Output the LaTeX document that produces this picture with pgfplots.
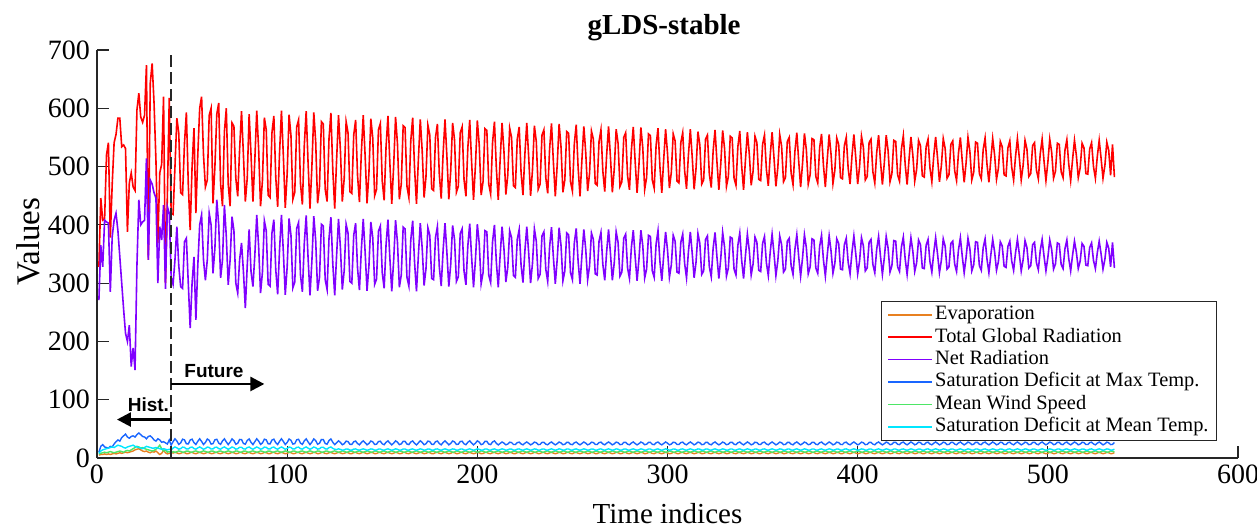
\documentclass[border=0pt]{standalone}
\usepackage{fontspec}
\setmainfont{Liberation Serif}
\newfontfamily\arialfont{Liberation Sans}
\usepackage{pgfplots}
\usepackage{pgfplotstable}
\pgfplotsset{compat=1.18}
\usetikzlibrary{arrows.meta,calc}

\definecolor{cEvap}{RGB}{232,128,32}
\definecolor{cTGR}{RGB}{255,0,0}
\definecolor{cNR}{RGB}{128,0,255}
\definecolor{cSDMax}{RGB}{25,102,255}
\definecolor{cWind}{RGB}{77,230,102}
\definecolor{cSDMean}{RGB}{0,230,255}
\definecolor{axgray}{RGB}{38,38,38}

\pgfplotstableread[row sep=\\]{
y\\
328\\446\\408\\410\\520\\541\\378\\470\\541\\555\\583\\583\\534\\537\\531\\388\\472\\489\\465\\459\\597\\626\\585\\576\\588\\674\\340\\643\\677\\609\\510\\369\\489\\504\\620\\300\\450\\618\\420\\
418\\500\\583\\557\\455\\452\\540\\593\\470\\391\\500\\566\\420\\520\\600\\620\\520\\465\\477\\588\\600\\437\\500\\590\\609\\470\\432\\560\\600\\470\\432\\575\\569\\480\\449\\530\\595\\520\\440\\480\\590\\520\\440\\
512\\596\\530\\432\\476\\584\\563\\451\\447\\558\\587\\482\\431\\524\\596\\518\\429\\488\\589\\553\\444\\456\\568\\580\\471\\435\\536\\595\\506\\428\\500\\593\\542\\437\\466\\577\\573\\461\\440\\548\\592\\494\\428\\
512\\588\\528\\440\\480\\577\\558\\457\\454\\554\\580\\485\\439\\523\\588\\518\\437\\490\\582\\549\\450\\461\\563\\574\\475\\442\\534\\587\\506\\436\\501\\585\\539\\444\\470\\570\\567\\466\\447\\544\\584\\496\\436\\
512\\581\\527\\447\\483\\571\\554\\462\\459\\550\\573\\487\\445\\522\\581\\517\\444\\492\\575\\546\\456\\466\\558\\568\\478\\449\\532\\580\\507\\443\\502\\579\\537\\451\\474\\565\\562\\470\\453\\541\\577\\497\\443\\
512\\575\\526\\452\\485\\566\\550\\467\\464\\547\\568\\490\\451\\521\\575\\517\\450\\494\\570\\543\\461\\470\\554\\563\\481\\454\\530\\574\\507\\449\\503\\573\\534\\456\\477\\560\\557\\474\\458\\539\\572\\498\\449\\
512\\569\\524\\458\\488\\561\\547\\471\\468\\543\\563\\492\\457\\520\\569\\516\\456\\496\\564\\540\\466\\474\\550\\558\\484\\460\\528\\568\\508\\455\\504\\567\\532\\461\\481\\556\\553\\477\\463\\536\\566\\500\\455\\
512\\564\\523\\463\\490\\556\\544\\475\\472\\541\\558\\493\\462\\520\\564\\516\\461\\497\\560\\537\\470\\477\\547\\554\\487\\464\\527\\563\\508\\460\\504\\562\\531\\466\\483\\552\\549\\480\\468\\534\\561\\501\\460\\
512\\559\\522\\468\\492\\552\\541\\478\\476\\538\\554\\495\\467\\519\\559\\515\\466\\498\\555\\535\\474\\481\\543\\550\\489\\469\\526\\558\\509\\465\\505\\557\\529\\470\\486\\548\\546\\483\\472\\532\\556\\502\\465\\
512\\555\\521\\471\\494\\549\\538\\481\\479\\536\\550\\497\\470\\518\\555\\515\\470\\500\\552\\533\\477\\483\\541\\547\\491\\472\\524\\554\\509\\469\\506\\554\\527\\474\\488\\545\\543\\486\\475\\530\\553\\503\\469\\
512\\551\\520\\475\\495\\545\\536\\484\\482\\534\\547\\498\\474\\518\\551\\515\\474\\501\\548\\531\\480\\486\\538\\544\\493\\476\\523\\550\\509\\473\\506\\550\\526\\477\\490\\542\\540\\488\\479\\529\\549\\504\\473\\
512\\548\\520\\478\\497\\543\\534\\486\\484\\532\\544\\499\\477\\517\\548\\515\\477\\502\\545\\530\\483\\488\\536\\541\\494\\479\\522\\547\\509\\476\\507\\547\\525\\480\\492\\540\\538\\491\\481\\528\\546\\504\\476\\
512\\545\\519\\481\\498\\540\\532\\488\\487\\530\\541\\500\\480\\517\\545\\514\\480\\502\\542\\528\\485\\538\\482\\
}\tTGR

\pgfplotstableread[row sep=\\]{
y\\
271\\365\\328\\408\\405\\403\\285\\380\\408\\420\\390\\345\\300\\255\\214\\200\\228\\157\\189\\151\\330\\443\\400\\405\\408\\514\\340\\477\\470\\455\\446\\300\\397\\374\\434\\290\\431\\420\\310\\
298\\340\\397\\330\\294\\291\\371\\377\\300\\223\\300\\345\\237\\330\\400\\417\\340\\305\\340\\420\\400\\317\\360\\443\\400\\309\\340\\434\\380\\297\\340\\414\\390\\300\\283\\340\\369\\320\\257\\330\\392\\320\\294\\
348\\417\\363\\283\\319\\407\\390\\298\\295\\386\\409\\323\\281\\358\\417\\353\\280\\328\\411\\382\\292\\302\\394\\404\\314\\285\\368\\416\\343\\279\\338\\415\\373\\287\\310\\401\\398\\306\\289\\377\\413\\333\\279\\
348\\410\\361\\289\\322\\401\\386\\303\\300\\382\\403\\326\\288\\357\\410\\353\\287\\330\\405\\378\\298\\307\\389\\398\\318\\291\\366\\409\\343\\286\\339\\408\\370\\293\\314\\396\\393\\310\\295\\374\\407\\335\\286\\
348\\403\\360\\296\\325\\395\\382\\308\\306\\378\\397\\328\\295\\356\\403\\352\\294\\332\\399\\375\\303\\311\\385\\393\\321\\297\\364\\402\\344\\293\\340\\401\\368\\299\\318\\390\\388\\314\\301\\371\\400\\336\\293\\
348\\397\\359\\302\\327\\390\\378\\313\\310\\375\\392\\331\\301\\355\\397\\352\\300\\334\\393\\372\\308\\315\\381\\388\\324\\303\\362\\396\\344\\299\\341\\395\\365\\304\\321\\386\\383\\318\\306\\369\\394\\337\\299\\
348\\392\\358\\306\\329\\386\\375\\316\\314\\372\\387\\332\\305\\354\\392\\351\\305\\335\\388\\370\\312\\319\\377\\384\\326\\308\\361\\391\\345\\304\\342\\391\\364\\309\\324\\382\\380\\321\\310\\367\\390\\338\\304\\
348\\388\\357\\310\\331\\382\\372\\319\\317\\370\\384\\334\\309\\354\\388\\351\\309\\336\\385\\368\\315\\321\\375\\381\\328\\311\\360\\387\\345\\308\\342\\387\\362\\312\\326\\379\\377\\324\\314\\365\\386\\339\\308\\
348\\384\\356\\314\\333\\379\\370\\322\\320\\368\\380\\335\\313\\353\\384\\351\\313\\338\\381\\366\\319\\324\\372\\377\\330\\315\\358\\383\\345\\312\\343\\383\\361\\316\\328\\376\\374\\326\\317\\363\\382\\340\\312\\
348\\381\\355\\317\\334\\376\\368\\324\\323\\366\\377\\336\\316\\353\\381\\350\\316\\338\\378\\364\\321\\326\\370\\375\\332\\318\\358\\380\\346\\315\\343\\380\\360\\319\\330\\373\\372\\328\\320\\362\\379\\341\\315\\
348\\378\\355\\320\\335\\374\\366\\326\\325\\365\\375\\337\\319\\352\\378\\350\\318\\339\\376\\363\\324\\328\\368\\372\\333\\320\\357\\378\\346\\318\\344\\377\\359\\321\\331\\371\\370\\330\\322\\361\\376\\341\\318\\
348\\375\\354\\322\\337\\371\\364\\329\\327\\363\\372\\338\\322\\352\\375\\350\\321\\340\\373\\361\\326\\330\\366\\370\\335\\323\\356\\375\\346\\321\\344\\374\\358\\324\\333\\369\\367\\332\\325\\359\\374\\342\\321\\
348\\372\\353\\325\\338\\368\\363\\331\\330\\361\\369\\339\\325\\352\\372\\350\\324\\341\\370\\360\\328\\370\\326\\
}\tNR

\pgfplotstableread[row sep=\\]{
y\\
10\\20\\23\\19\\18\\17\\20\\19\\24\\28\\31\\29\\35\\38\\41\\36\\34\\37\\38\\36\\40\\43\\40\\37\\36\\33\\37\\38\\35\\31\\29\\33\\31\\27\\28\\26\\24\\31\\22\\
28\\33\\29.1\\23.3\\25.9\\32.3\\31.1\\24.4\\24.2\\30.8\\32.4\\26.2\\23.2\\28.7\\33\\28.4\\23.1\\26.6\\32.6\\30.4\\23.9\\24.7\\31.3\\32.1\\25.6\\23.4\\29.4\\32.9\\27.6\\23\\27.3\\32.8\\29.8\\23.6\\25.2\\31.8\\31.6\\24.9\\23.7\\30.1\\32.7\\26.9\\23\\
28\\33\\29.1\\23.3\\25.9\\32.3\\31.1\\24.4\\24.2\\30.8\\32.4\\26.2\\23.2\\28.7\\33\\28.4\\23.1\\26.6\\32.6\\30.4\\23.9\\24.7\\31.3\\32.1\\25.6\\23.4\\29.4\\32.9\\27.6\\23\\27.3\\32.8\\29.8\\23.6\\25.2\\31.8\\31.6\\24.9\\23.7\\30.1\\32.7\\26.9\\23\\
26\\29.5\\26.8\\22.7\\24.5\\29\\28.1\\23.5\\23.3\\27.9\\29.1\\24.8\\22.6\\26.5\\29.5\\26.3\\22.6\\25\\29.2\\27.7\\23.2\\23.7\\28.3\\28.8\\24.3\\22.8\\27\\29.4\\25.7\\22.5\\25.5\\29.4\\27.2\\22.9\\24.1\\28.7\\28.5\\23.9\\23\\27.5\\29.3\\25.2\\22.5\\
26\\29.5\\26.8\\22.7\\24.5\\29\\28.1\\23.5\\23.3\\27.9\\29.1\\24.8\\22.6\\26.5\\29.5\\26.3\\22.6\\25\\29.2\\27.7\\23.2\\23.7\\28.3\\28.8\\24.3\\22.8\\27\\29.4\\25.7\\22.5\\25.5\\29.4\\27.2\\22.9\\24.1\\28.7\\28.5\\23.9\\23\\27.5\\29.3\\25.2\\22.5\\
25\\27.5\\25.5\\22.6\\23.9\\27.1\\26.5\\23.2\\23.1\\26.4\\27.2\\24.1\\22.6\\25.4\\27.5\\25.2\\22.5\\24.3\\27.3\\26.2\\23\\23.3\\26.7\\27\\23.8\\22.7\\25.7\\27.5\\24.8\\22.5\\24.6\\27.4\\25.9\\22.8\\23.6\\26.9\\26.8\\23.5\\22.9\\26.1\\27.4\\24.5\\22.5\\
25\\27.5\\25.5\\22.6\\23.9\\27.1\\26.5\\23.2\\23.1\\26.4\\27.2\\24.1\\22.6\\25.4\\27.5\\25.2\\22.5\\24.3\\27.3\\26.2\\23\\23.3\\26.7\\27\\23.8\\22.7\\25.7\\27.5\\24.8\\22.5\\24.6\\27.4\\25.9\\22.8\\23.6\\26.9\\26.8\\23.5\\22.9\\26.1\\27.4\\24.5\\22.5\\
25\\27.5\\25.5\\22.6\\23.9\\27.1\\26.5\\23.2\\23.1\\26.4\\27.2\\24.1\\22.6\\25.4\\27.5\\25.2\\22.5\\24.3\\27.3\\26.2\\23\\23.3\\26.7\\27\\23.8\\22.7\\25.7\\27.5\\24.8\\22.5\\24.6\\27.4\\25.9\\22.8\\23.6\\26.9\\26.8\\23.5\\22.9\\26.1\\27.4\\24.5\\22.5\\
25\\27.5\\25.5\\22.6\\23.9\\27.1\\26.5\\23.2\\23.1\\26.4\\27.2\\24.1\\22.6\\25.4\\27.5\\25.2\\22.5\\24.3\\27.3\\26.2\\23\\23.3\\26.7\\27\\23.8\\22.7\\25.7\\27.5\\24.8\\22.5\\24.6\\27.4\\25.9\\22.8\\23.6\\26.9\\26.8\\23.5\\22.9\\26.1\\27.4\\24.5\\22.5\\
25\\27.5\\25.5\\22.6\\23.9\\27.1\\26.5\\23.2\\23.1\\26.4\\27.2\\24.1\\22.6\\25.4\\27.5\\25.2\\22.5\\24.3\\27.3\\26.2\\23\\23.3\\26.7\\27\\23.8\\22.7\\25.7\\27.5\\24.8\\22.5\\24.6\\27.4\\25.9\\22.8\\23.6\\26.9\\26.8\\23.5\\22.9\\26.1\\27.4\\24.5\\22.5\\
25\\27.5\\25.5\\22.6\\23.9\\27.1\\26.5\\23.2\\23.1\\26.4\\27.2\\24.1\\22.6\\25.4\\27.5\\25.2\\22.5\\24.3\\27.3\\26.2\\23\\23.3\\26.7\\27\\23.8\\22.7\\25.7\\27.5\\24.8\\22.5\\24.6\\27.4\\25.9\\22.8\\23.6\\26.9\\26.8\\23.5\\22.9\\26.1\\27.4\\24.5\\22.5\\
25\\27.5\\25.5\\22.6\\23.9\\27.1\\26.5\\23.2\\23.1\\26.4\\27.2\\24.1\\22.6\\25.4\\27.5\\25.2\\22.5\\24.3\\27.3\\26.2\\23\\23.3\\26.7\\27\\23.8\\22.7\\25.7\\27.5\\24.8\\22.5\\24.6\\27.4\\25.9\\22.8\\23.6\\26.9\\26.8\\23.5\\22.9\\26.1\\27.4\\24.5\\22.5\\
25\\27.5\\25.5\\22.6\\23.9\\27.1\\26.5\\23.2\\23.1\\26.4\\27.2\\24.1\\22.6\\25.4\\27.5\\25.2\\22.5\\24.3\\27.3\\26.2\\23\\23.3\\26.7\\
}\tSDMax

\pgfplotstableread[row sep=\\]{
y\\
8\\12\\14\\15\\16\\17\\18\\19\\18\\20\\22\\21\\20\\18\\17\\19\\20\\21\\22\\20\\19\\18\\17\\16\\18\\20\\19\\18\\17\\17\\18\\17\\16\\15\\16\\15\\14\\15\\14\\
17\\19\\17.4\\15.1\\16.1\\18.7\\18.2\\15.6\\15.5\\18.1\\18.8\\16.3\\15.1\\17.3\\19\\17.1\\15\\16.4\\18.8\\18\\15.4\\15.7\\18.3\\18.6\\16\\15.2\\17.6\\19\\16.9\\15\\16.7\\18.9\\17.7\\15.2\\15.9\\18.5\\18.4\\15.8\\15.3\\17.9\\18.9\\16.6\\15\\
17\\19\\17.4\\15.1\\16.1\\18.7\\18.2\\15.6\\15.5\\18.1\\18.8\\16.3\\15.1\\17.3\\19\\17.1\\15\\16.4\\18.8\\18\\15.4\\15.7\\18.3\\18.6\\16\\15.2\\17.6\\19\\16.9\\15\\16.7\\18.9\\17.7\\15.2\\15.9\\18.5\\18.4\\15.8\\15.3\\17.9\\18.9\\16.6\\15\\
14.5\\15.7\\14.8\\13.4\\14\\15.5\\15.2\\13.6\\13.6\\15.2\\15.6\\14.1\\13.3\\14.7\\15.7\\14.6\\13.3\\14.2\\15.6\\15.1\\13.5\\13.7\\15.3\\15.5\\13.9\\13.4\\14.8\\15.7\\14.4\\13.3\\14.3\\15.7\\14.9\\13.4\\13.8\\15.4\\15.4\\13.8\\13.5\\15\\15.6\\14.2\\13.3\\
14.5\\15.7\\14.8\\13.4\\14\\15.5\\15.2\\13.6\\13.6\\15.2\\15.6\\14.1\\13.3\\14.7\\15.7\\14.6\\13.3\\14.2\\15.6\\15.1\\13.5\\13.7\\15.3\\15.5\\13.9\\13.4\\14.8\\15.7\\14.4\\13.3\\14.3\\15.7\\14.9\\13.4\\13.8\\15.4\\15.4\\13.8\\13.5\\15\\15.6\\14.2\\13.3\\
14.5\\15.7\\14.8\\13.4\\14\\15.5\\15.2\\13.6\\13.6\\15.2\\15.6\\14.1\\13.3\\14.7\\15.7\\14.6\\13.3\\14.2\\15.6\\15.1\\13.5\\13.7\\15.3\\15.5\\13.9\\13.4\\14.8\\15.7\\14.4\\13.3\\14.3\\15.7\\14.9\\13.4\\13.8\\15.4\\15.4\\13.8\\13.5\\15\\15.6\\14.2\\13.3\\
14.5\\15.7\\14.8\\13.4\\14\\15.5\\15.2\\13.6\\13.6\\15.2\\15.6\\14.1\\13.3\\14.7\\15.7\\14.6\\13.3\\14.2\\15.6\\15.1\\13.5\\13.7\\15.3\\15.5\\13.9\\13.4\\14.8\\15.7\\14.4\\13.3\\14.3\\15.7\\14.9\\13.4\\13.8\\15.4\\15.4\\13.8\\13.5\\15\\15.6\\14.2\\13.3\\
14.5\\15.7\\14.8\\13.4\\14\\15.5\\15.2\\13.6\\13.6\\15.2\\15.6\\14.1\\13.3\\14.7\\15.7\\14.6\\13.3\\14.2\\15.6\\15.1\\13.5\\13.7\\15.3\\15.5\\13.9\\13.4\\14.8\\15.7\\14.4\\13.3\\14.3\\15.7\\14.9\\13.4\\13.8\\15.4\\15.4\\13.8\\13.5\\15\\15.6\\14.2\\13.3\\
14.5\\15.7\\14.8\\13.4\\14\\15.5\\15.2\\13.6\\13.6\\15.2\\15.6\\14.1\\13.3\\14.7\\15.7\\14.6\\13.3\\14.2\\15.6\\15.1\\13.5\\13.7\\15.3\\15.5\\13.9\\13.4\\14.8\\15.7\\14.4\\13.3\\14.3\\15.7\\14.9\\13.4\\13.8\\15.4\\15.4\\13.8\\13.5\\15\\15.6\\14.2\\13.3\\
14.5\\15.7\\14.8\\13.4\\14\\15.5\\15.2\\13.6\\13.6\\15.2\\15.6\\14.1\\13.3\\14.7\\15.7\\14.6\\13.3\\14.2\\15.6\\15.1\\13.5\\13.7\\15.3\\15.5\\13.9\\13.4\\14.8\\15.7\\14.4\\13.3\\14.3\\15.7\\14.9\\13.4\\13.8\\15.4\\15.4\\13.8\\13.5\\15\\15.6\\14.2\\13.3\\
14.5\\15.7\\14.8\\13.4\\14\\15.5\\15.2\\13.6\\13.6\\15.2\\15.6\\14.1\\13.3\\14.7\\15.7\\14.6\\13.3\\14.2\\15.6\\15.1\\13.5\\13.7\\15.3\\15.5\\13.9\\13.4\\14.8\\15.7\\14.4\\13.3\\14.3\\15.7\\14.9\\13.4\\13.8\\15.4\\15.4\\13.8\\13.5\\15\\15.6\\14.2\\13.3\\
14.5\\15.7\\14.8\\13.4\\14\\15.5\\15.2\\13.6\\13.6\\15.2\\15.6\\14.1\\13.3\\14.7\\15.7\\14.6\\13.3\\14.2\\15.6\\15.1\\13.5\\13.7\\15.3\\15.5\\13.9\\13.4\\14.8\\15.7\\14.4\\13.3\\14.3\\15.7\\14.9\\13.4\\13.8\\15.4\\15.4\\13.8\\13.5\\15\\15.6\\14.2\\13.3\\
14.5\\15.7\\14.8\\13.4\\14\\15.5\\15.2\\13.6\\13.6\\15.2\\15.6\\14.1\\13.3\\14.7\\15.7\\14.6\\13.3\\14.2\\15.6\\15.1\\13.5\\13.7\\15.3\\
}\tSDMean

\pgfplotstableread[row sep=\\]{
y\\
7\\8\\9\\10\\9\\10\\11\\10\\9\\10\\11\\12\\11\\10\\12\\13\\12\\14\\16\\18\\20\\19\\17\\18\\16\\15\\14\\13\\12\\13\\15\\18\\22\\16\\12\\14\\10\\11\\9\\
11\\9.8\\10.7\\12.1\\11.5\\10\\10.3\\11.9\\11.9\\10.3\\9.9\\11.4\\12.2\\10.8\\9.8\\10.9\\12.2\\11.3\\9.9\\10.4\\12\\11.8\\10.2\\10\\11.6\\12.1\\10.7\\9.8\\11.1\\12.2\\11.2\\9.8\\10.6\\12.1\\11.7\\10.1\\10.1\\11.7\\12\\10.5\\9.9\\11.3\\12.2\\
11\\9.8\\10.7\\12.1\\11.5\\10\\10.3\\11.9\\11.9\\10.3\\9.9\\11.4\\12.2\\10.8\\9.8\\10.9\\12.2\\11.3\\9.9\\10.4\\12\\11.8\\10.2\\10\\11.6\\12.1\\10.7\\9.8\\11.1\\12.2\\11.2\\9.8\\10.6\\12.1\\11.7\\10.1\\10.1\\11.7\\12\\10.5\\9.9\\11.3\\12.2\\
11\\9.8\\10.7\\12.1\\11.5\\10\\10.3\\11.9\\11.9\\10.3\\9.9\\11.4\\12.2\\10.8\\9.8\\10.9\\12.2\\11.3\\9.9\\10.4\\12\\11.8\\10.2\\10\\11.6\\12.1\\10.7\\9.8\\11.1\\12.2\\11.2\\9.8\\10.6\\12.1\\11.7\\10.1\\10.1\\11.7\\12\\10.5\\9.9\\11.3\\12.2\\
11\\9.8\\10.7\\12.1\\11.5\\10\\10.3\\11.9\\11.9\\10.3\\9.9\\11.4\\12.2\\10.8\\9.8\\10.9\\12.2\\11.3\\9.9\\10.4\\12\\11.8\\10.2\\10\\11.6\\12.1\\10.7\\9.8\\11.1\\12.2\\11.2\\9.8\\10.6\\12.1\\11.7\\10.1\\10.1\\11.7\\12\\10.5\\9.9\\11.3\\12.2\\
11\\9.8\\10.7\\12.1\\11.5\\10\\10.3\\11.9\\11.9\\10.3\\9.9\\11.4\\12.2\\10.8\\9.8\\10.9\\12.2\\11.3\\9.9\\10.4\\12\\11.8\\10.2\\10\\11.6\\12.1\\10.7\\9.8\\11.1\\12.2\\11.2\\9.8\\10.6\\12.1\\11.7\\10.1\\10.1\\11.7\\12\\10.5\\9.9\\11.3\\12.2\\
11\\9.8\\10.7\\12.1\\11.5\\10\\10.3\\11.9\\11.9\\10.3\\9.9\\11.4\\12.2\\10.8\\9.8\\10.9\\12.2\\11.3\\9.9\\10.4\\12\\11.8\\10.2\\10\\11.6\\12.1\\10.7\\9.8\\11.1\\12.2\\11.2\\9.8\\10.6\\12.1\\11.7\\10.1\\10.1\\11.7\\12\\10.5\\9.9\\11.3\\12.2\\
11\\9.8\\10.7\\12.1\\11.5\\10\\10.3\\11.9\\11.9\\10.3\\9.9\\11.4\\12.2\\10.8\\9.8\\10.9\\12.2\\11.3\\9.9\\10.4\\12\\11.8\\10.2\\10\\11.6\\12.1\\10.7\\9.8\\11.1\\12.2\\11.2\\9.8\\10.6\\12.1\\11.7\\10.1\\10.1\\11.7\\12\\10.5\\9.9\\11.3\\12.2\\
11\\9.8\\10.7\\12.1\\11.5\\10\\10.3\\11.9\\11.9\\10.3\\9.9\\11.4\\12.2\\10.8\\9.8\\10.9\\12.2\\11.3\\9.9\\10.4\\12\\11.8\\10.2\\10\\11.6\\12.1\\10.7\\9.8\\11.1\\12.2\\11.2\\9.8\\10.6\\12.1\\11.7\\10.1\\10.1\\11.7\\12\\10.5\\9.9\\11.3\\12.2\\
11\\9.8\\10.7\\12.1\\11.5\\10\\10.3\\11.9\\11.9\\10.3\\9.9\\11.4\\12.2\\10.8\\9.8\\10.9\\12.2\\11.3\\9.9\\10.4\\12\\11.8\\10.2\\10\\11.6\\12.1\\10.7\\9.8\\11.1\\12.2\\11.2\\9.8\\10.6\\12.1\\11.7\\10.1\\10.1\\11.7\\12\\10.5\\9.9\\11.3\\12.2\\
11\\9.8\\10.7\\12.1\\11.5\\10\\10.3\\11.9\\11.9\\10.3\\9.9\\11.4\\12.2\\10.8\\9.8\\10.9\\12.2\\11.3\\9.9\\10.4\\12\\11.8\\10.2\\10\\11.6\\12.1\\10.7\\9.8\\11.1\\12.2\\11.2\\9.8\\10.6\\12.1\\11.7\\10.1\\10.1\\11.7\\12\\10.5\\9.9\\11.3\\12.2\\
11\\9.8\\10.7\\12.1\\11.5\\10\\10.3\\11.9\\11.9\\10.3\\9.9\\11.4\\12.2\\10.8\\9.8\\10.9\\12.2\\11.3\\9.9\\10.4\\12\\11.8\\10.2\\10\\11.6\\12.1\\10.7\\9.8\\11.1\\12.2\\11.2\\9.8\\10.6\\12.1\\11.7\\10.1\\10.1\\11.7\\12\\10.5\\9.9\\11.3\\12.2\\
11\\9.8\\10.7\\12.1\\11.5\\10\\10.3\\11.9\\11.9\\10.3\\9.9\\11.4\\12.2\\10.8\\9.8\\10.9\\12.2\\11.3\\9.9\\10.4\\12\\11.8\\10.2\\
}\tWind

\pgfplotstableread[row sep=\\]{
y\\
5\\6\\6\\7\\6\\7\\6\\7\\8\\7\\8\\9\\8\\9\\10\\9\\10\\11\\12\\14\\15\\16\\14\\12\\11\\12\\10\\9\\11\\10\\12\\9\\6\\8\\13\\9\\7\\8\\9\\
8.5\\9.7\\8.8\\7.4\\8\\9.5\\9.2\\7.6\\7.6\\9.2\\9.6\\8.1\\7.3\\8.7\\9.7\\8.6\\7.3\\8.2\\9.6\\9.1\\7.5\\7.7\\9.3\\9.5\\7.9\\7.4\\8.8\\9.7\\8.4\\7.3\\8.3\\9.7\\8.9\\7.4\\7.8\\9.4\\9.4\\7.8\\7.5\\9\\9.6\\8.2\\7.3\\
8.5\\9.7\\8.8\\7.4\\8\\9.5\\9.2\\7.6\\7.6\\9.2\\9.6\\8.1\\7.3\\8.7\\9.7\\8.6\\7.3\\8.2\\9.6\\9.1\\7.5\\7.7\\9.3\\9.5\\7.9\\7.4\\8.8\\9.7\\8.4\\7.3\\8.3\\9.7\\8.9\\7.4\\7.8\\9.4\\9.4\\7.8\\7.5\\9\\9.6\\8.2\\7.3\\
8.5\\9.7\\8.8\\7.4\\8\\9.5\\9.2\\7.6\\7.6\\9.2\\9.6\\8.1\\7.3\\8.7\\9.7\\8.6\\7.3\\8.2\\9.6\\9.1\\7.5\\7.7\\9.3\\9.5\\7.9\\7.4\\8.8\\9.7\\8.4\\7.3\\8.3\\9.7\\8.9\\7.4\\7.8\\9.4\\9.4\\7.8\\7.5\\9\\9.6\\8.2\\7.3\\
8.5\\9.7\\8.8\\7.4\\8\\9.5\\9.2\\7.6\\7.6\\9.2\\9.6\\8.1\\7.3\\8.7\\9.7\\8.6\\7.3\\8.2\\9.6\\9.1\\7.5\\7.7\\9.3\\9.5\\7.9\\7.4\\8.8\\9.7\\8.4\\7.3\\8.3\\9.7\\8.9\\7.4\\7.8\\9.4\\9.4\\7.8\\7.5\\9\\9.6\\8.2\\7.3\\
8.5\\9.7\\8.8\\7.4\\8\\9.5\\9.2\\7.6\\7.6\\9.2\\9.6\\8.1\\7.3\\8.7\\9.7\\8.6\\7.3\\8.2\\9.6\\9.1\\7.5\\7.7\\9.3\\9.5\\7.9\\7.4\\8.8\\9.7\\8.4\\7.3\\8.3\\9.7\\8.9\\7.4\\7.8\\9.4\\9.4\\7.8\\7.5\\9\\9.6\\8.2\\7.3\\
8.5\\9.7\\8.8\\7.4\\8\\9.5\\9.2\\7.6\\7.6\\9.2\\9.6\\8.1\\7.3\\8.7\\9.7\\8.6\\7.3\\8.2\\9.6\\9.1\\7.5\\7.7\\9.3\\9.5\\7.9\\7.4\\8.8\\9.7\\8.4\\7.3\\8.3\\9.7\\8.9\\7.4\\7.8\\9.4\\9.4\\7.8\\7.5\\9\\9.6\\8.2\\7.3\\
8.5\\9.7\\8.8\\7.4\\8\\9.5\\9.2\\7.6\\7.6\\9.2\\9.6\\8.1\\7.3\\8.7\\9.7\\8.6\\7.3\\8.2\\9.6\\9.1\\7.5\\7.7\\9.3\\9.5\\7.9\\7.4\\8.8\\9.7\\8.4\\7.3\\8.3\\9.7\\8.9\\7.4\\7.8\\9.4\\9.4\\7.8\\7.5\\9\\9.6\\8.2\\7.3\\
8.5\\9.7\\8.8\\7.4\\8\\9.5\\9.2\\7.6\\7.6\\9.2\\9.6\\8.1\\7.3\\8.7\\9.7\\8.6\\7.3\\8.2\\9.6\\9.1\\7.5\\7.7\\9.3\\9.5\\7.9\\7.4\\8.8\\9.7\\8.4\\7.3\\8.3\\9.7\\8.9\\7.4\\7.8\\9.4\\9.4\\7.8\\7.5\\9\\9.6\\8.2\\7.3\\
8.5\\9.7\\8.8\\7.4\\8\\9.5\\9.2\\7.6\\7.6\\9.2\\9.6\\8.1\\7.3\\8.7\\9.7\\8.6\\7.3\\8.2\\9.6\\9.1\\7.5\\7.7\\9.3\\9.5\\7.9\\7.4\\8.8\\9.7\\8.4\\7.3\\8.3\\9.7\\8.9\\7.4\\7.8\\9.4\\9.4\\7.8\\7.5\\9\\9.6\\8.2\\7.3\\
8.5\\9.7\\8.8\\7.4\\8\\9.5\\9.2\\7.6\\7.6\\9.2\\9.6\\8.1\\7.3\\8.7\\9.7\\8.6\\7.3\\8.2\\9.6\\9.1\\7.5\\7.7\\9.3\\9.5\\7.9\\7.4\\8.8\\9.7\\8.4\\7.3\\8.3\\9.7\\8.9\\7.4\\7.8\\9.4\\9.4\\7.8\\7.5\\9\\9.6\\8.2\\7.3\\
8.5\\9.7\\8.8\\7.4\\8\\9.5\\9.2\\7.6\\7.6\\9.2\\9.6\\8.1\\7.3\\8.7\\9.7\\8.6\\7.3\\8.2\\9.6\\9.1\\7.5\\7.7\\9.3\\9.5\\7.9\\7.4\\8.8\\9.7\\8.4\\7.3\\8.3\\9.7\\8.9\\7.4\\7.8\\9.4\\9.4\\7.8\\7.5\\9\\9.6\\8.2\\7.3\\
8.5\\9.7\\8.8\\7.4\\8\\9.5\\9.2\\7.6\\7.6\\9.2\\9.6\\8.1\\7.3\\8.7\\9.7\\8.6\\7.3\\8.2\\9.6\\9.1\\7.5\\7.7\\9.3\\
}\tEvap

\begin{document}
\begin{tikzpicture}
\begin{axis}[
  width=570.5pt, height=204pt, scale only axis,
  xmin=0, xmax=600, ymin=0, ymax=700,
  xtick={0,100,...,600}, ytick={0,100,...,700},
  axis lines=left,
  axis line style={-, draw=axgray, line width=0.7pt},
  tick align=inside, major tick length=6pt,
  tick style={draw=axgray, line width=0.6pt},
  tick label style={font=\fontsize{14}{16}\selectfont, text=black},
  /pgf/number format/assume math mode=true,
  xlabel={Time indices}, ylabel={Values},
  every axis x label/.style={at={(axis description cs:0.5,-0.137)}, anchor=center, font=\fontsize{14.5}{16}\selectfont},
  every axis y label/.style={at={(axis description cs:-0.0605,0.53)}, anchor=center, rotate=90, font=\fontsize{16.5}{18}\selectfont},
  title={gLDS-stable},
  every axis title/.style={at={(axis description cs:0.497,1.054)}, anchor=center, font=\bfseries\fontsize{14.5}{16}\selectfont},
  legend style={at={(rel axis cs:0.9816,0.0417)}, anchor=south east, draw=axgray, line width=0.5pt, fill=white,
    font=\fontsize{10.2}{11.5}\selectfont, inner xsep=3pt, inner ysep=1.2pt,
    nodes={inner xsep=1pt, inner ysep=1pt, text height=7pt, text depth=2.2pt}},
  legend cell align=left,
  legend image code/.code={\draw[#1] (0pt,0pt) -- (22pt,0pt);},
  clip=false,
]
\addplot[cEvap, line width=0.7pt] table[x expr=\coordindex+1, y=y]{\tEvap};
\addlegendentry{Evaporation}
\addplot[cTGR, line width=0.8pt] table[x expr=\coordindex+1, y=y]{\tTGR};
\addlegendentry{Total Global Radiation}
\addplot[cNR, line width=0.8pt] table[x expr=\coordindex+1, y=y]{\tNR};
\addlegendentry{Net Radiation}
\addplot[cSDMax, line width=0.7pt] table[x expr=\coordindex+1, y=y]{\tSDMax};
\addlegendentry{Saturation Deficit at Max Temp.}
\addplot[cWind, line width=0.7pt] table[x expr=\coordindex+1, y=y]{\tWind};
\addlegendentry{Mean Wind Speed}
\addplot[cSDMean, line width=0.7pt] table[x expr=\coordindex+1, y=y]{\tSDMean};
\addlegendentry{Saturation Deficit at Mean Temp.}

\draw[axgray, line width=1.2pt, dash pattern=on 6pt off 2.5pt] (axis cs:39,0) -- (axis cs:39,700);
\draw[black, line width=1.3pt, -{Triangle[length=7pt,width=7pt]}] (axis cs:39,127) -- (axis cs:88,127);
\node[font=\arialfont\bfseries\fontsize{9.5}{11}\selectfont] at (axis cs:61.5,150) {Future};
\draw[black, line width=1.3pt, -{Triangle[length=7pt,width=7pt]}] (axis cs:39,66) -- (axis cs:10.5,66);
\node[font=\arialfont\bfseries\fontsize{9.5}{11}\selectfont, anchor=east, inner sep=0.5pt] at (axis cs:38.6,92) {Hist.};
\end{axis}
\pgfresetboundingbox
\path[use as bounding box] ($(current axis.south west)+(-48.5pt,-35.5pt)$) rectangle ($(current axis.north east)+(9.5pt,25pt)$);
\end{tikzpicture}
\end{document}
